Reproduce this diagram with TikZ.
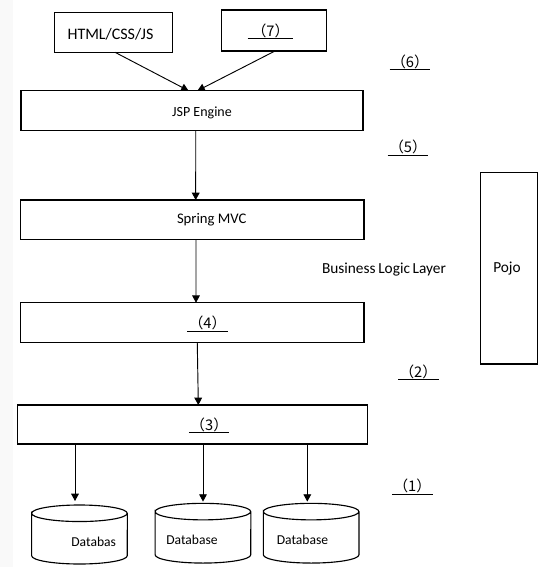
\documentclass[tikz,border=0pt]{standalone}
\usepackage{fontspec}
\setmainfont{Carlito}
\newfontfamily\cjkfont{Noto Sans CJK SC}
\usetikzlibrary{arrows.meta,calc}
\definecolor{stripgray}{RGB}{249,249,249}
\newcommand{\dbcyl}[1]{\draw[dbline] ([yshift=-6.2pt]#1.north west) arc[start angle=180,end angle=-180,x radius=35.85pt,y radius=6.2pt] -- ([yshift=6.2pt]#1.south west) arc[start angle=180,end angle=360,x radius=35.85pt,y radius=6.2pt] -- ([yshift=-6.2pt]#1.north east);}
\tikzset{
  boxnode/.style={draw, line width=1.1pt, inner sep=0pt, outer sep=0pt},
  arr/.style={line width=0.7pt, -{Triangle[length=5.5pt,width=5.8pt]}},
  dbbox/.style={inner sep=0pt, outer sep=0pt, minimum width=71.8pt},
  dbline/.style={line width=0.85pt},
  txt/.style={inner sep=0pt, font=\fontsize{10.5pt}{12pt}\selectfont},
  dbtxt/.style={inner sep=0pt, font=\fontsize{10.2pt}{12pt}\selectfont},
  lab/.style={inner xsep=0pt, inner ysep=1.5pt, text height=8pt, text depth=0pt, anchor=south, minimum width=30pt, font=\cjkfont\fontsize{11pt}{13pt}\selectfont},
  ul/.style={line width=0.7pt}
}
\begin{document}
\begin{tikzpicture}[x=0.75pt,y=-0.75pt]
\useasboundingbox[fill=white] (0,0) rectangle (545,567);
\fill[stripgray] (0,0) rectangle (12.7,567);
% boxes
\node[boxnode, minimum width=88.5pt, minimum height=30pt] (html) at (113.3,32.3) {};
\node[boxnode, minimum width=78.75pt, minimum height=30.75pt] (seven) at (274.2,30.5) {};
\node[boxnode, minimum width=256.5pt, minimum height=30pt] (jsp) at (192,110.7) {};
\node[boxnode, minimum width=257.5pt, minimum height=29.5pt] (spring) at (192.3,219.7) {};
\node[boxnode, minimum width=257.6pt, minimum height=30pt] (b4) at (192.2,322.7) {};
\node[boxnode, minimum width=262.6pt, minimum height=29.25pt] (b3) at (192.6,424.5) {};
\node[boxnode, minimum width=42.5pt, minimum height=143.5pt] (pojo) at (509,268.3) {};
% texts
\node[txt, font=\fontsize{12pt}{14pt}\selectfont] (thtml) at (110.5,34) {HTML/CSS/JS};
\node[txt] (tjsp) at (202,113) {JSP Engine};
\node[txt, font=\fontsize{11pt}{13pt}\selectfont] (tspring) at (211.7,220) {Spring MVC};
\node[txt, font=\fontsize{11.5pt}{13pt}\selectfont] (tbll) at (384,270) {\spaceskip=2pt Business Logic Layer};
\node[txt, font=\fontsize{11.5pt}{13pt}\selectfont] (tpojo) at (507,269) {Pojo};
% labels
\node[lab, minimum width=33.75pt] (l7) at (270.5,38.3) {（7）};
\node[lab] (l6) at (410,69.3) {（6）};
\node[lab] (l5) at (408,155) {（5）};
\node[lab] (l4) at (207.5,331) {（4）};
\node[lab] (l2) at (418.3,379.3) {（2）};
\node[lab] (l3) at (209.2,432.3) {（3）};
\node[lab] (l1) at (412.3,494) {（1）};
\foreach \l in {l7,l6,l5,l4,l2,l3,l1} {\draw[ul] (\l.south west) -- (\l.south east);}
% databases
\node[dbbox, minimum height=44.25pt] (db1) at (79.5,534.5) {};
\node[dbbox, minimum height=44.8pt] (db2) at (203,533.2) {};
\node[dbbox, minimum height=44.8pt] (db3) at (311.2,533.2) {};
\dbcyl{db1}
\dbcyl{db2}
\dbcyl{db3}
\node[dbtxt] (tdb1) at (93.7,541.7) {Databas};
\node[dbtxt] (tdb2) at (192,540) {Database};
\node[dbtxt] (tdb3) at (302.5,540) {Database};
% arrows
\draw[arr] ([xshift=1.3pt]html.south) -- ([xshift=-2.6pt]jsp.north);
\draw[arr] ([xshift=0.6pt]seven.south) -- ([xshift=4.1pt]jsp.north);
\draw[arr] ([xshift=2.8pt]jsp.south) -- ([xshift=2.55pt]spring.north);
\draw[arr] ([xshift=2.75pt]spring.south) -- ([xshift=2.85pt]b4.north);
\draw[arr] ([xshift=3.8pt]b4.south) -- ([xshift=4.3pt]b3.north);
\draw[arr, shorten >=3pt] ($(b3.south -| db1.north)+(-4.5,0)$) -- ($(db1.north)+(-4.5,0)$);
\draw[arr, shorten >=1.3pt] (b3.south -| db2.north) -- (db2.north);
\draw[arr, shorten >=1.3pt] ($(b3.south -| db3.north)+(-3.9,0)$) -- ($(db3.north)+(-3.9,0)$);
\end{tikzpicture}
\end{document}
